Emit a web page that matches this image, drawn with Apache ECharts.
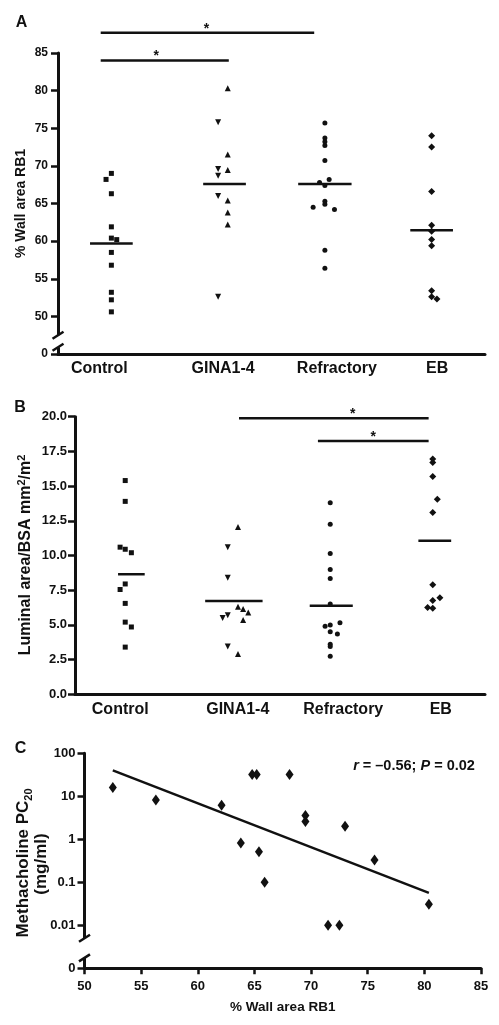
<!DOCTYPE html>
<html><head><meta charset="utf-8">
<script src="https://cdn.jsdelivr.net/npm/echarts@6/dist/echarts.min.js"></script>
<style>html,body{margin:0;padding:0;background:#fff}#c{width:499px;height:1025px}</style>
</head><body><div id="c"></div>
<script>
// ---------- data ----------
const categories = ['Control', 'GINA1-4', 'Refractory', 'EB'];

// Panel A: % wall area RB1
const wallControl    = [69.0, 68.2, 66.3, 61.9, 60.4, 60.2, 58.5, 56.8, 53.2, 52.2, 50.6];
const wallGinaDown   = [75.8, 69.6, 68.7, 66.0, 52.6];
const wallGinaUp     = [80.3, 71.5, 69.45, 65.4, 63.8, 62.2];
const wallRefractory = [75.7, 73.7, 73.2, 72.7, 70.7, 68.2, 67.8, 67.4, 65.3, 64.9, 64.5, 64.2, 58.8, 56.4];
const wallEB         = [74.0, 72.5, 66.6, 62.1, 61.3, 60.2, 59.4, 53.4, 52.6, 52.3];
const wallMeans      = [59.7, 67.6, 67.6, 61.45];
const wallTicks      = [45, 50, 55, 60, 65, 70, 75, 80, 85];
// significance brackets: [from, to, level, star position]
const wallSig        = [[0.4, 2.4, 87.7, 1.39], [0.4, 1.6, 84.0, 0.92]];
const wallBreak      = [[0, 45.9, 47.5]];

// Panel B: luminal area / BSA
const lumControl    = [15.4, 13.9, 10.6, 10.45, 10.2, 7.95, 7.55, 6.55, 5.2, 4.85, 3.4];
const lumGinaDown   = [10.6, 8.4, 5.7, 5.5, 3.45];
const lumGinaUp     = [12.05, 6.3, 6.15, 5.9, 5.35, 2.9];
const lumRefractory = [13.8, 12.25, 10.15, 9.0, 8.35, 6.5, 5.15, 5.0, 4.9, 4.5, 4.35, 3.6, 3.45, 2.75];
const lumEB         = [16.95, 16.7, 15.7, 14.05, 13.1, 7.9, 6.95, 6.75, 6.25, 6.2];
const lumMeans      = [8.65, 6.72, 6.38, 11.07];
const lumSig        = [[1.6, 3.45, 19.88, 2.71], [2.37, 3.45, 18.25, 2.91]];

// Panel C: methacholine PC20 vs % wall area
const pcWall = [52.5, 56.3, 62.1, 63.8, 64.8, 65.2, 68.1, 69.5, 69.5, 73.0, 65.4, 75.6, 65.9, 71.5, 72.5, 80.4];
const pcDose = [16, 8.2, 6.2, 0.82, 32, 32, 32, 3.6, 2.6, 2.0, 0.51, 0.33, 0.1, 0.01, 0.01, 0.031];
const fitWall = [52.5, 80.4];
const fitDose = [40, 0.057];
const doseBreak = [[50, 0.00175, 0.005]];

// ---------- layout (jitter in category units, mean bar offsets / half widths) ----------
const jitA = {
  control: [0, -0.05, 0, 0, 0, 0.05, 0, 0, 0, 0, 0],
  ginaDown: [0, 0, 0, 0, 0],
  ginaUp: [0.09, 0.09, 0.09, 0.09, 0.09, 0.09],
  refr: [0, 0, 0, 0, 0, 0.04, -0.05, 0, 0, 0, -0.11, 0.09, 0, 0],
  eb: [0, 0, 0, 0, 0, 0, 0, 0, 0, 0.05]
};
const jitB = {
  control: [-0.01, -0.01, -0.06, -0.01, 0.05, -0.01, -0.06, -0.01, -0.01, 0.05, -0.01],
  ginaDown: [-0.01, -0.01, -0.01, -0.06, -0.01],
  ginaUp: [0.09, 0.09, 0.14, 0.19, 0.14, 0.09],
  refr: [-0.01, -0.01, -0.01, -0.01, -0.01, -0.01, 0.085, -0.01, -0.06, -0.01, 0.06, -0.01, -0.01, -0.01],
  eb: [-0.01, -0.01, -0.01, 0.035, -0.01, -0.01, 0.06, -0.01, -0.06, -0.01]
};
const meanBarA = [[0, 0.2], [0.06, 0.2], [0, 0.25], [0, 0.2]];
const meanBarB = [[0.05, 0.13], [0.05, 0.28], [0, 0.21], [0.01, 0.16]];
const labelShiftA = [-12, 5, 12, 5.5];
const labelShiftB = [-6, 9, 12, 7];

const FONT = "'Liberation Sans', Arial, Helvetica, sans-serif";
const INK = '#111';

function pts(group, values, jit) {
  return values.map((v, i) => [group + 0.5 + (jit[i] || 0), v]);
}

function catLabel(shifts) {
  const rich = {};
  shifts.forEach((s, k) => {
    rich['s' + k] = {
      fontFamily: FONT, fontWeight: 'bold', fontSize: 16, color: INK,
      padding: s >= 0 ? [0, 0, 0, 2 * s] : [0, -2 * s, 0, 0]
    };
  });
  return {
    fontFamily: FONT, fontWeight: 'bold', fontSize: 16, color: INK, margin: 7,
    rich,
    formatter: v => {
      const i = Math.round(v * 2);
      if (i % 2 !== 1) return '';
      const k = (i - 1) / 2;
      return '{s' + k + '|' + categories[k] + '}';
    }
  };
}

function scatter(axis, data, symbol, size, rotate) {
  return {
    type: 'scatter', xAxisIndex: axis, yAxisIndex: axis, data,
    symbol, symbolSize: size, symbolRotate: rotate || 0,
    itemStyle: { color: INK, opacity: 1 }, silent: true, z: 3
  };
}

function meanSeries(axis, means, layout) {
  return {
    type: 'custom', xAxisIndex: axis, yAxisIndex: axis, clip: false, silent: true, z: 4,
    data: means.map((m, i) => [i, m]),
    renderItem: (params, api) => {
      const i = api.value(0), m = api.value(1);
      const c = i + 0.5 + layout[i][0], h = layout[i][1];
      const p1 = api.coord([c - h, m]), p2 = api.coord([c + h, m]);
      return { type: 'line', shape: { x1: p1[0], y1: p1[1], x2: p2[0], y2: p2[1] },
               style: { stroke: INK, lineWidth: 2.5 } };
    }
  };
}

function sigSeries(axis, sig) {
  return {
    type: 'custom', xAxisIndex: axis, yAxisIndex: axis, clip: false, silent: true, z: 4,
    data: sig,
    renderItem: (params, api) => {
      const lv = api.value(2);
      const a = api.coord([api.value(0), lv]), b = api.coord([api.value(1), lv]);
      const s = api.coord([api.value(3), lv]);
      return { type: 'group', children: [
        { type: 'line', shape: { x1: a[0], y1: a[1], x2: b[0], y2: b[1] },
          style: { stroke: INK, lineWidth: 2.5 } },
        { type: 'text', style: { text: '*', x: s[0], y: s[1] - 4,
          textAlign: 'center', align: 'center', textVerticalAlign: 'middle', verticalAlign: 'middle',
          fontSize: 14, fontWeight: 'bold', fontFamily: FONT, fill: INK } }
      ] };
    }
  };
}

function breakSeries(axis, brk) {
  return {
    type: 'custom', xAxisIndex: axis, yAxisIndex: axis, clip: false, silent: true, z: 5,
    data: brk,
    renderItem: (params, api) => {
      const lo = api.coord([api.value(0), api.value(1)]);
      const hi = api.coord([api.value(0), api.value(2)]);
      const x = lo[0];
      const slash = y => ({ type: 'line', shape: { x1: x - 5.5, y1: y + 3.5, x2: x + 5.5, y2: y - 3.5 },
                            style: { stroke: INK, lineWidth: 2.5 } });
      return { type: 'group', children: [
        { type: 'rect', shape: { x: x - 3, y: hi[1], width: 6, height: lo[1] - hi[1] },
          style: { fill: '#fff' } },
        slash(hi[1]), slash(lo[1])
      ] };
    }
  };
}

const axisLineStyle = { show: true, lineStyle: { color: INK, width: 3 } };
const yTick = { show: true, length: 7, lineStyle: { color: INK, width: 2.5 } };

const option = {
  animation: false,
  backgroundColor: '#fff',
  grid: [
    { left: 58, top: 53, right: 14, bottom: 671 },
    { left: 75, top: 416.7, right: 14, bottom: 330.7 },
    { left: 84.5, top: 753.3, right: 18, bottom: 56.7 }
  ],
  xAxis: [
    { gridIndex: 0, type: 'value', min: 0, max: 4, interval: 0.5, axisLine: axisLineStyle,
      axisTick: { show: false }, splitLine: { show: false }, axisLabel: catLabel(labelShiftA) },
    { gridIndex: 1, type: 'value', min: 0, max: 4, interval: 0.5, axisLine: axisLineStyle,
      axisTick: { show: false }, splitLine: { show: false }, axisLabel: catLabel(labelShiftB) },
    { gridIndex: 2, type: 'value', min: 50, max: 85, interval: 5, axisLine: axisLineStyle,
      axisTick: { show: true, length: 6, lineStyle: { color: INK, width: 2.5 } },
      splitLine: { show: false },
      axisLabel: { fontFamily: FONT, fontWeight: 'bold', fontSize: 13, color: INK, margin: 12 },
      name: '% Wall area RB1', nameLocation: 'middle', nameGap: 32,
      nameTextStyle: { fontFamily: FONT, fontWeight: 'bold', fontSize: 13.5, color: INK } }
  ],
  yAxis: [
    { gridIndex: 0, type: 'value', min: 45, max: 85, interval: 5, axisLine: axisLineStyle,
      axisTick: yTick, splitLine: { show: false },
      axisLabel: { fontFamily: FONT, fontWeight: 'bold', fontSize: 12, color: INK, margin: 10,
                   formatter: v => (v === wallTicks[0] ? '0' : String(v)) } },
    { gridIndex: 1, type: 'value', min: 0, max: 20, interval: 2.5, axisLine: axisLineStyle,
      axisTick: yTick, splitLine: { show: false },
      axisLabel: { fontFamily: FONT, fontWeight: 'bold', fontSize: 13, color: INK, margin: 8,
                   formatter: v => v.toFixed(1) } },
    { gridIndex: 2, type: 'log', logBase: 10, min: 0.001, max: 100, axisLine: axisLineStyle,
      axisTick: yTick, splitLine: { show: false },
      axisLabel: { fontFamily: FONT, fontWeight: 'bold', fontSize: 13, color: INK, margin: 9,
                   formatter: v => (v < 0.0015 ? '0' : String(+(+v).toPrecision(1))) } }
  ],
  graphic: [
    { type: 'text', x: 21.5, y: 22.5, style: { text: 'A', fontFamily: FONT, fontWeight: 'bold', fontSize: 16, fill: INK,
      textAlign: 'center', align: 'center', textVerticalAlign: 'middle', verticalAlign: 'middle' } },
    { type: 'text', x: 20, y: 408, style: { text: 'B', fontFamily: FONT, fontWeight: 'bold', fontSize: 16, fill: INK,
      textAlign: 'center', align: 'center', textVerticalAlign: 'middle', verticalAlign: 'middle' } },
    { type: 'text', x: 20.5, y: 749, style: { text: 'C', fontFamily: FONT, fontWeight: 'bold', fontSize: 16, fill: INK,
      textAlign: 'center', align: 'center', textVerticalAlign: 'middle', verticalAlign: 'middle' } },
    { type: 'text', x: 21.5, y: 203.5, rotation: Math.PI / 2,
      style: { text: '% Wall area RB1', fontFamily: FONT, fontWeight: 'bold', fontSize: 14, fill: INK,
      textAlign: 'center', align: 'center', textVerticalAlign: 'middle', verticalAlign: 'middle' } },
    { type: 'text', x: 26, y: 555, rotation: Math.PI / 2,
      style: { text: 'Luminal area/BSA mm{s|2}/m{s|2}', fontFamily: FONT, fontWeight: 'bold', fontSize: 16, fill: INK,
      lineHeight: 20,
      rich: { s: { fontFamily: FONT, fontWeight: 'bold', fontSize: 11, lineHeight: 11, verticalAlign: 'top', fill: INK } },
      textAlign: 'center', align: 'center', textVerticalAlign: 'middle', verticalAlign: 'middle' } },
    { type: 'text', x: 23, y: 863, rotation: Math.PI / 2,
      style: { text: 'Methacholine PC{b|20}', fontFamily: FONT, fontWeight: 'bold', fontSize: 17, fill: INK,
      lineHeight: 22,
      rich: { b: { fontFamily: FONT, fontWeight: 'bold', fontSize: 11, lineHeight: 11, verticalAlign: 'bottom', fill: INK } },
      textAlign: 'center', align: 'center', textVerticalAlign: 'middle', verticalAlign: 'middle' } },
    { type: 'text', x: 41, y: 864, rotation: Math.PI / 2,
      style: { text: '(mg/ml)', fontFamily: FONT, fontWeight: 'bold', fontSize: 17, fill: INK,
      textAlign: 'center', align: 'center', textVerticalAlign: 'middle', verticalAlign: 'middle' } },
    { type: 'text', x: 414, y: 766,
      style: { text: '{i|r} = \u20130.56; {i|P} = 0.02', fontFamily: FONT, fontWeight: 'bold', fontSize: 14.5, fill: INK,
      rich: { i: { fontFamily: FONT, fontWeight: 'bold', fontStyle: 'italic', fontSize: 14.5, fill: INK } },
      textAlign: 'center', align: 'center', textVerticalAlign: 'middle', verticalAlign: 'middle' } }
  ],
  series: [
    // Panel A
    scatter(0, pts(0, wallControl, jitA.control), 'rect', 5),
    scatter(0, pts(1, wallGinaDown, jitA.ginaDown), 'triangle', 6, 180),
    scatter(0, pts(1, wallGinaUp, jitA.ginaUp), 'triangle', 6),
    scatter(0, pts(2, wallRefractory, jitA.refr), 'circle', 5),
    scatter(0, pts(3, wallEB, jitA.eb), 'diamond', 7),
    meanSeries(0, wallMeans, meanBarA),
    sigSeries(0, wallSig),
    breakSeries(0, wallBreak),
    // Panel B
    scatter(1, pts(0, lumControl, jitB.control), 'rect', 5),
    scatter(1, pts(1, lumGinaDown, jitB.ginaDown), 'triangle', 6, 180),
    scatter(1, pts(1, lumGinaUp, jitB.ginaUp), 'triangle', 6),
    scatter(1, pts(2, lumRefractory, jitB.refr), 'circle', 5),
    scatter(1, pts(3, lumEB, jitB.eb), 'diamond', 7),
    meanSeries(1, lumMeans, meanBarB),
    sigSeries(1, lumSig),
    // Panel C
    scatter(2, pcWall.map((w, i) => [w, pcDose[i]]), 'diamond', [8, 11]),
    { type: 'line', xAxisIndex: 2, yAxisIndex: 2, data: fitWall.map((w, i) => [w, fitDose[i]]),
      showSymbol: false, symbol: 'none', silent: true, lineStyle: { color: INK, width: 2.5 }, z: 2 },
    breakSeries(2, doseBreak)
  ]
};

const chart = echarts.init(document.getElementById('c'), null, { renderer: 'canvas' });
chart.setOption(option);
</script></body></html>
